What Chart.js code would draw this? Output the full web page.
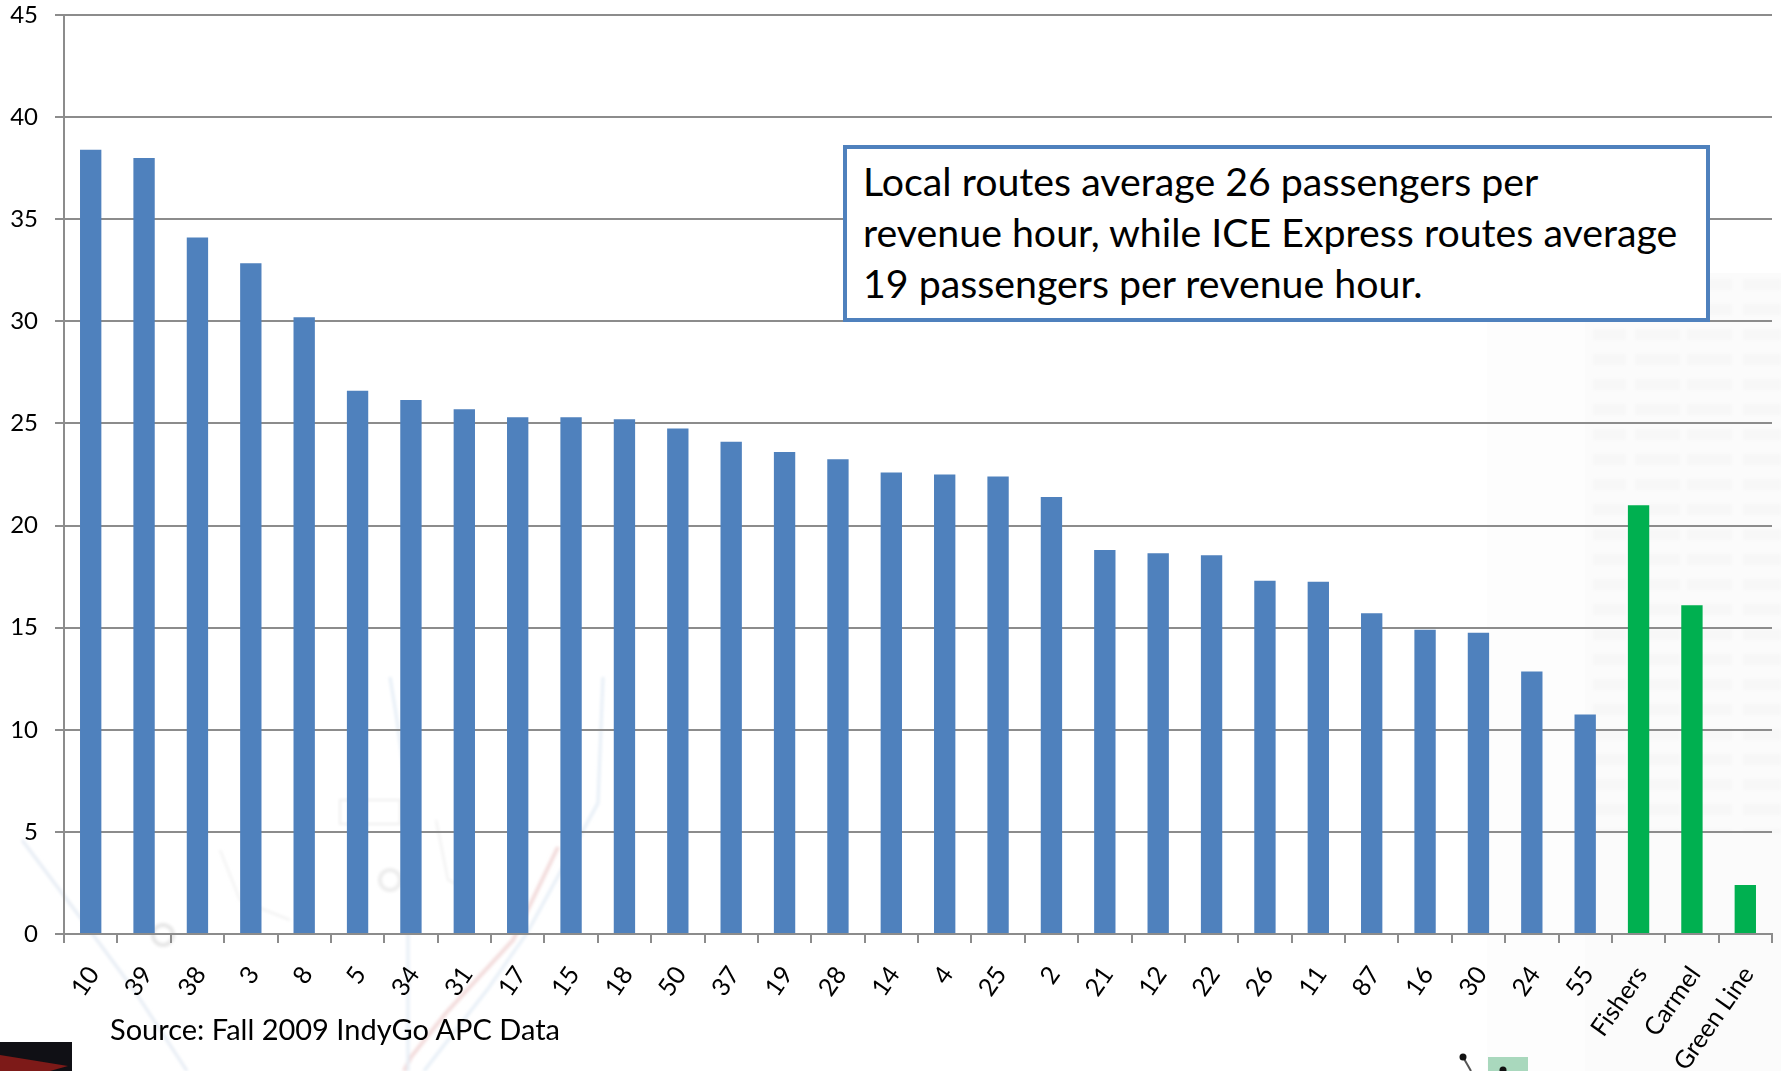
<!DOCTYPE html>
<html lang="en">
<head>
<meta charset="UTF-8">
<title>Passengers per revenue hour</title>
<script src="https://cdn.jsdelivr.net/npm/chart.js"></script>
<style>
  html, body { margin: 0; padding: 0; background: #fff; overflow: hidden; }
  #wrap { position: relative; width: 1781px; height: 1071px; font-family: Lato, sans-serif; color: #000; }
  #bg { position: absolute; left: 0; top: 0; }
  #chart { position: absolute; left: 0; top: 0; }
  .callout {
    position: absolute; left: 843px; top: 145px; width: 859px; height: 169px;
    border: 4px solid #4f81bd; background: #fff;
    font-size: 39.3px; line-height: 51px;
  }
  .callout div { position: absolute; left: 16px; white-space: nowrap; }
  .source { position: absolute; left: 110px; top: 1012px; font-size: 29px; line-height: 34px; white-space: nowrap; }
</style>
</head>
<body>
<div id="wrap">
  <svg id="bg" width="1781" height="1071" fill="none">
    <defs>
      <filter id="soft"><feGaussianBlur stdDeviation="1.5"/></filter>
      <pattern id="windows" x="1593" y="273" width="188" height="25" patternUnits="userSpaceOnUse">
        <rect x="0" y="6" width="33" height="11" fill="#f7f7f7"/>
        <rect x="42" y="6" width="45" height="11" fill="#f7f7f7"/>
        <rect x="94" y="6" width="45" height="11" fill="#f7f7f7"/>
        <rect x="150" y="6" width="38" height="11" fill="#f7f7f7"/>
      </pattern>
    </defs>
    <!-- faint backdrop: tower and street map behind the plot -->
    <rect x="1487" y="273" width="294" height="798" fill="#fdfdfd"/>
    <rect x="1585" y="273" width="196" height="798" fill="#fbfbfb"/>
    <rect x="1593" y="273" width="188" height="560" fill="url(#windows)" filter="url(#soft)"/>
    <g filter="url(#soft)">
      <path d="M22 840 L80 917 L134 990 L187 1071" stroke="#e6ecf4" stroke-width="3"/>
      <path d="M558 847 L513 940 L446 1013 L411 1057 L404 1071" stroke="#f3dcdc" stroke-width="4"/>
      <path d="M603 677 L598 803 L527 933 L487 990 L424 1071" stroke="#e6eef6" stroke-width="3"/>
      <path d="M390 677 L397 720 L408 800 L408 1071" stroke="#e6eef6" stroke-width="3"/>
      <path d="M436 820 L448 880 L470 890 M220 850 L240 900 L290 920" stroke="#f0f0f0" stroke-width="2"/>
      <circle cx="163" cy="935" r="10" stroke="#e6e6e6" stroke-width="4"/>
      <circle cx="390" cy="880" r="10" stroke="#ececec" stroke-width="4"/>
      <rect x="340" y="800" width="60" height="24" stroke="#efefef" stroke-width="2"/>
    </g>
    <rect x="0" y="1042" width="72" height="29" fill="#101015"/>
    <path d="M0 1055 L68 1066 L50 1071 L0 1071 Z" fill="#7d1a18"/>
    <rect x="1488" y="1057" width="40" height="14" fill="#a9d8bd"/>
    <path d="M1463 1057 L1471 1071" stroke="#555" stroke-width="2"/>
    <circle cx="1463" cy="1057" r="3.5" fill="#111"/>
    <circle cx="1503" cy="1070" r="3.5" fill="#111"/>
  </svg>
  <canvas id="chart" width="1781" height="1071"></canvas>
  <div class="callout">
    <div style="top:6px">Local routes average 26 passengers per</div>
    <div style="top:57px">revenue hour, while ICE Express routes average</div>
    <div style="top:108px">19 passengers per revenue hour.</div>
  </div>
  <div class="source">Source: Fall 2009 IndyGo APC Data</div>
</div>
<script>
  const categories = ['10', '39', '38', '3', '8', '5', '34', '31', '17', '15', '18', '50', '37', '19', '28', '14', '4', '25', '2', '21', '12', '22', '26', '11', '87', '16', '30', '24', '55', 'Fishers', 'Carmel', 'Green Line'];
  const passengers = [38.4, 38.0, 34.1, 32.85, 30.2, 26.6, 26.15, 25.7, 25.3, 25.3, 25.2, 24.75, 24.1, 23.6, 23.25, 22.6, 22.5, 22.4, 21.4, 18.8, 18.65, 18.55, 17.3, 17.25, 15.7, 14.9, 14.75, 12.85, 10.75, 21.0, 16.1, 2.4];
  const expressRoutes = ['Fishers', 'Carmel', 'Green Line'];
  const yTicks = [0, 5, 10, 15, 20, 25, 30, 35, 40, 45];

  const localColor = '#4f81bd';
  const expressColor = '#00b050';
  const axisColor = '#8c8c8c';

  // fixed axis sizes, and no extra room for labels hanging past the plot
  function fixBox(scale, size) {
    if (scale.axis === 'x') scale.height = size;
    else scale.width = size;
    scale.paddingTop = scale.paddingBottom = scale.paddingLeft = scale.paddingRight = 0;
  }

  new Chart(document.getElementById('chart').getContext('2d'), {
    type: 'bar',
    data: {
      labels: categories,
      datasets: [{
        data: passengers,
        backgroundColor: categories.map(c => expressRoutes.includes(c) ? expressColor : localColor),
        borderWidth: 0,
        barPercentage: 0.4,
        categoryPercentage: 1
      }]
    },
    options: {
      responsive: false,
      animation: false,
      layout: { padding: { top: 15, right: 9, left: 0, bottom: 0 } },
      plugins: { legend: { display: false }, tooltip: { enabled: false } },
      scales: {
        x: {
          afterFit: scale => fixBox(scale, 137),
          border: { color: axisColor, width: 2 },
          grid: { display: true, drawOnChartArea: false, color: axisColor, lineWidth: 2, tickLength: 9 },
          ticks: {
            color: '#000',
            font: { family: 'Lato', size: 25 },
            minRotation: 55,
            maxRotation: 55,
            autoSkip: false,
            labelOffset: 3,
            padding: 18
          }
        },
        y: {
          min: 0,
          max: 45,
          afterFit: scale => fixBox(scale, 64),
          afterBuildTicks: scale => { scale.ticks = yTicks.map(value => ({ value })); },
          border: { color: axisColor, width: 2 },
          grid: { color: axisColor, lineWidth: 2, tickLength: 9 },
          ticks: {
            color: '#000',
            font: { family: 'Lato', size: 24 },
            padding: 17
          }
        }
      }
    }
  });
</script>
</body>
</html>
